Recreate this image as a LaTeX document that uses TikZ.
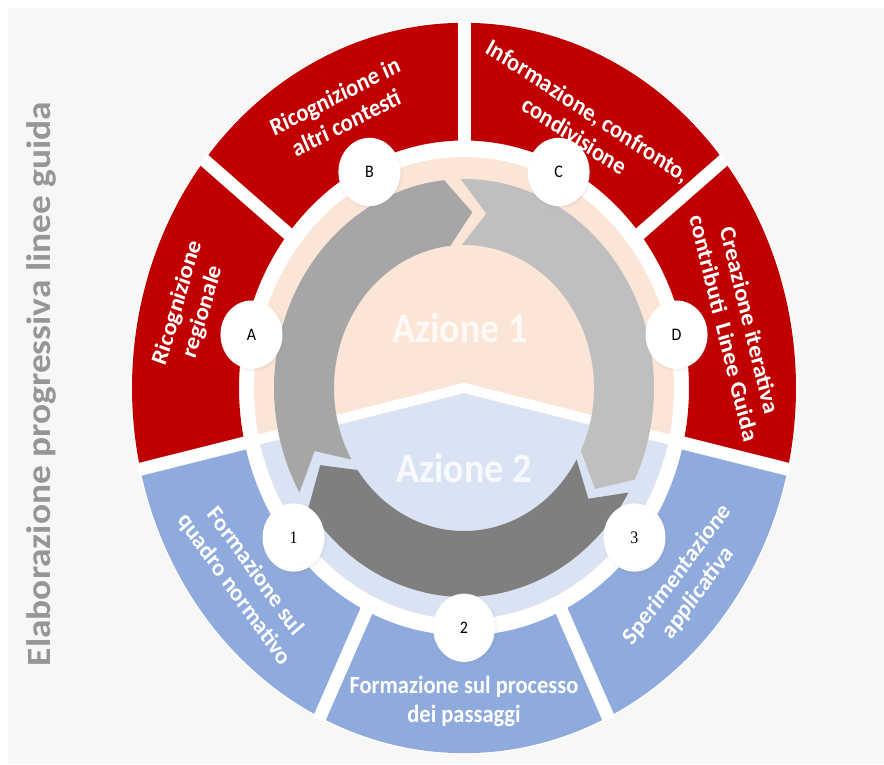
\documentclass[tikz,border=0pt]{standalone}
\usepackage{fontspec}
\setmainfont{Carlito}
\newfontfamily\serifnum{Liberation Serif}
\usetikzlibrary{shadows}
\definecolor{ringred}{HTML}{C00000}
\definecolor{ringblue}{HTML}{8FAADC}
\definecolor{peach}{HTML}{FBE5D6}
\definecolor{paleblue}{HTML}{DAE3F3}
\definecolor{arrowA}{HTML}{A6A6A6}
\definecolor{arrowB}{HTML}{BFBFBF}
\definecolor{arrowC}{HTML}{7F7F7F}
\definecolor{panel}{HTML}{F7F7F7}
\definecolor{titlegray}{HTML}{969696}
\newcommand\chevarc[4]{%
  \fill[#1] (#2:190pt) arc[start angle=#2, end angle=#3, radius=190pt]
    -- ({#3-#4}:160pt) -- (#3:130pt)
    arc[start angle=#3, end angle=#2, radius=130pt]
    -- ({#2-#4}:160pt) -- cycle;}
\begin{document}
\begin{tikzpicture}[x=1pt,y=1pt,
  segtext/.style={text=white, font=\bfseries\fontsize{22.5}{26.5}\selectfont, align=center, inner sep=0pt},
  badge/.style={circle, fill=white, minimum size=62pt, inner sep=0pt, font=\fontsize{16}{18}\selectfont,
    circular drop shadow={shadow xshift=0.6pt, shadow yshift=-0.8pt, shadow scale=1.08, opacity=0.14}},
  azione/.style={font=\bfseries\fontsize{38}{40}\selectfont, text=white, text opacity=0.8, anchor=base, inner sep=0pt}
]
\useasboundingbox (0,0) rectangle (884,764);
\fill[white] (0,0) rectangle (884,764);
\fill[panel] (8,0) rectangle (884,756);
\begin{scope}[shift={(464,376)}, yscale=1.1, transform shape]
  % white base
  \fill[white] (0,0) circle (333pt);
  % outer ring segments
  \foreach \s/\col in {-12.857/ringred, 38.571/ringred, 90/ringred, 141.429/ringred,
                       192.857/ringblue, 244.286/ringblue, 295.714/ringblue}{
    \pgfmathsetmacro\e{\s+51.4286}
    \fill[\col] (\s:225pt) arc[start angle=\s, end angle=\e, radius=225pt]
      -- (\e:332pt) arc[start angle=\e, end angle=\s, radius=332pt] -- cycle;
  }
  \foreach \s in {-12.857, 38.571, 90, 141.429, 192.857, 244.286, 295.714}{
    \draw[white, line width=13pt] (\s:215pt) -- (\s:334pt);
  }
  % inner disk
  \fill[peach] (0,0) circle (210pt);
  \fill[paleblue] (0,0) -- (192.857:210pt) arc[start angle=192.857, end angle=347.143, radius=210pt] -- cycle;
  \draw[white, line width=10pt] (192.857:212pt) -- (0,0) -- (-12.857:212pt);
  % cycle arrows
  \chevarc{arrowA}{210}{96}{9}
  \chevarc{arrowB}{91}{-26}{9}
  \chevarc{arrowC}{-30}{-145}{9}
  % centre labels
  \node[azione] (az1) at (-4pt,41pt) {Azione 1};
  \node[azione] (az2) at (0pt,-85.5pt) {Azione 2};
  % badges
  \node[badge] (bA) at (167.14:218pt) {A};
  \node[badge] (bB) at (115.71:218pt) {B};
  \node[badge] (bC) at (64.29:218pt) {C};
  \node[badge] (bD) at (12.86:218pt) {D};
  \node[badge, font=\serifnum\fontsize{16}{18}\selectfont] (b1) at (218.57:218pt) {1};
  \node[badge] (b2) at (270:218pt) {2};
  \node[badge, font=\serifnum\fontsize{16}{18}\selectfont] (b3) at (321.43:218pt) {3};
  % segment texts
  \node[segtext, rotate=72] (tA) at (165:283pt) {Ricognizione\\regionale};
  \node[segtext, rotate=25] (tB) at (116:282pt) {Ricognizione in\\altri contesti};
  \node[segtext, rotate=-31] (tC) at (64:268pt) {Informazione, confronto,\\condivisione};
  \node[segtext, rotate=-75] (tD) at (12:279pt) {Creazione iterativa\\contributi\ \ Linee Guida};
  \node[segtext, rotate=-52] (t1) at (218.6:281pt) {Formazione sul\\quadro normativo};
  \node[segtext] (t2) at (270:285pt) {Formazione sul processo\\dei passaggi};
  \node[segtext, rotate=51] (t3) at (321.5:286pt) {Sperimentazione\\applicativa};
  % side title
  \node[font=\bfseries\fontsize{34}{36}\selectfont, text=titlegray, rotate=90, anchor=base, inner sep=0pt]
    (title) at (-414pt,3.6pt) {Elaborazione progressiva linee guida};
\end{scope}
\end{tikzpicture}
\end{document}
